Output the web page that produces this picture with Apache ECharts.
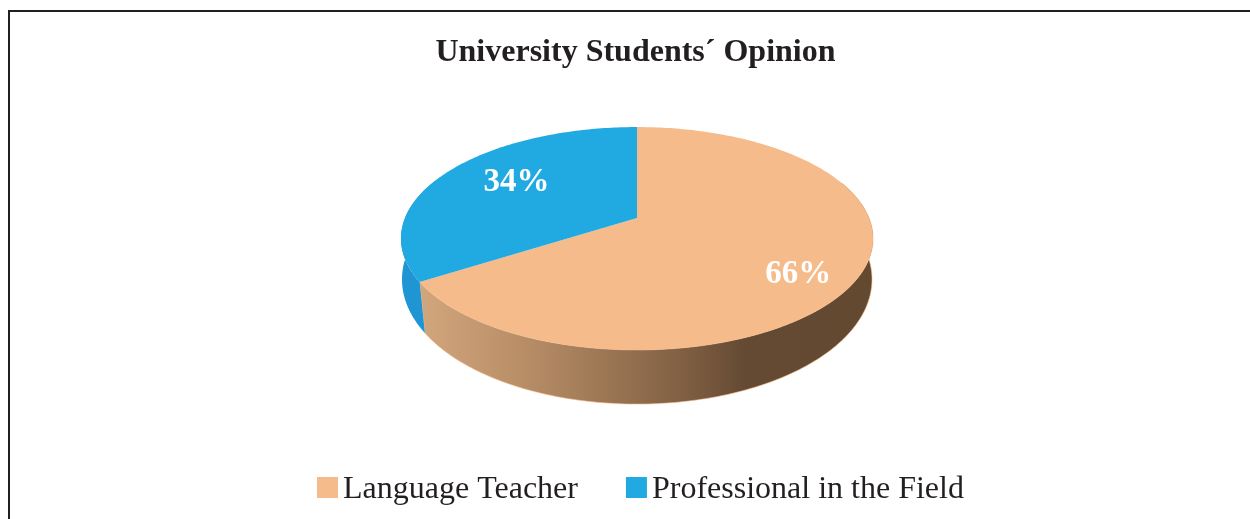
<!DOCTYPE html>
<html><head><meta charset="utf-8">
<style>html,body{margin:0;padding:0;background:#fff}#c{width:1250px;height:519px}</style>
<script src="https://cdn.jsdelivr.net/npm/echarts@6/dist/echarts.min.js"></script>
</head><body><div id="c"></div>
<script>
const titleText = 'University Students´ Opinion';
const categories = ['Language Teacher', 'Professional in the Field'];
const values = [66, 34];
const faceColors = ['#F5BB8A', '#21A9E1'];

const total = values.reduce((a, b) => a + b, 0);
// Perspective projection of the pie's top disc and bottom disc onto the page.
const CX = 637;
const TOP_DISC = { a: 218, b: 67.6, k: -0.1839, r: 232 };
const BASE_DISC = { a: 262.3, b: 86.4, k: -0.137, r: 232.8 };
const FONT = '"Liberation Serif","Times New Roman",serif';

function project(theta, r, disc) {
  const u = r * Math.sin(theta), v = -r * Math.cos(theta), w = 1 + disc.k * v;
  return [CX + disc.r * u / w, (disc.a + disc.b * v) / w];
}
function arc(a0, a1, disc) {
  const n = Math.max(2, Math.ceil(Math.abs(a1 - a0) * 60)), pts = [];
  for (let i = 0; i <= n; i++) pts.push(project(a0 + (a1 - a0) * i / n, 1, disc));
  return pts;
}
const rad = d => d * Math.PI / 180;
const sliceStart = i => 2 * Math.PI * values.slice(0, i).reduce((a, b) => a + b, 0) / total;

const wallFills = [
  new echarts.graphic.LinearGradient(420, 0, 870, 0, [
    { offset: 0, color: '#D2A67D' },
    { offset: 0.22, color: '#B98F68' },
    { offset: 0.44, color: '#987352' },
    { offset: 0.62, color: '#7A5A3F' },
    { offset: 0.72, color: '#644A33' },
    { offset: 1, color: '#634930' }
  ], true),
  '#1F95D3'
];
// Which part of each rim faces the viewer, and where its label sits.
const wallRange = [[rad(70), null], [null, rad(292)]];
const labelSpot = [[rad(118.8), 0.75, -2, 15], [rad(298.8), 0.62, -1, -5]];

function renderSlice(seriesIdx) {
  return function () {
    const a0 = sliceStart(seriesIdx);
    const a1 = a0 + 2 * Math.PI * values[seriesIdx] / total;
    const wr = wallRange[seriesIdx];
    const w0 = wr[0] === null ? a0 : wr[0], w1 = wr[1] === null ? a1 : wr[1];
    const wall = arc(w0, w1, TOP_DISC).concat(arc(w0, w1, BASE_DISC).reverse());
    const face = [project(0, 0, TOP_DISC)].concat(arc(a0, a1, TOP_DISC));
    const spot = labelSpot[seriesIdx];
    const lp = project(spot[0], spot[1], TOP_DISC);
    return {
      type: 'group',
      children: [
        { type: 'polygon', shape: { points: wall }, style: { fill: wallFills[seriesIdx], stroke: seriesIdx === 0 ? '#F5BB8A' : null, lineWidth: seriesIdx === 0 ? 0.6 : 0 } },
        { type: 'polygon', shape: { points: face }, style: { fill: faceColors[seriesIdx] } },
        { type: 'text', z2: 10, style: {
            x: lp[0] + spot[2], y: lp[1] + spot[3],
            text: Math.round(values[seriesIdx] / total * 100) + '%',
            align: 'center', verticalAlign: 'middle',
            fill: '#fff', font: 'bold 33px ' + FONT } }
      ]
    };
  };
}

const chart = echarts.init(document.getElementById('c'), null, { renderer: 'canvas' });
chart.setOption({
  animation: false,
  backgroundColor: '#fff',
  title: { text: titleText, left: 630.5, top: 32, textAlign: 'center',
    textStyle: { fontFamily: FONT, fontWeight: 'bold', fontSize: 32, color: '#231F20' } },
  legend: {
    data: categories, left: 317, top: 474, selectedMode: false,
    icon: 'rect', itemWidth: 21, itemHeight: 21, itemGap: 48, padding: 0,
    formatter: '{t|{name}}',
    textStyle: { rich: { t: { fontFamily: FONT, fontSize: 32, color: '#231F20', padding: [5, 0, 0, 0] } } }
  },
  graphic: [
    { type: 'polyline', shape: { points: [[9, 519], [9, 11], [1250, 11]] },
      style: { stroke: '#231F20', lineWidth: 2, fill: null } }
  ],
  series: categories.map((name, i) => ({
    type: 'custom', name, coordinateSystem: 'none',
    itemStyle: { color: faceColors[i] },
    renderItem: renderSlice(i),
    data: [values[i]], silent: true
  }))
});
</script></body></html>
